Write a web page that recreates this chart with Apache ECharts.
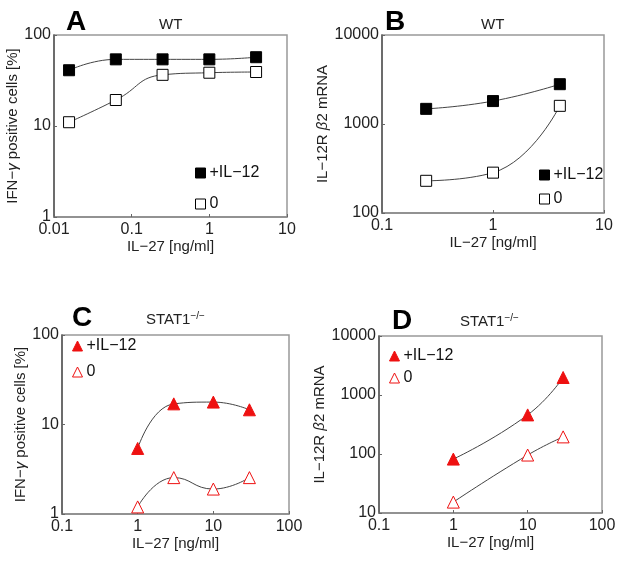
<!DOCTYPE html>
<html><head><meta charset="utf-8">
<script src="https://cdn.jsdelivr.net/npm/echarts@6/dist/echarts.min.js"></script>
<style>html,body{margin:0;padding:0;background:#fff}#c{width:624px;height:565px}</style>
</head><body><div id="c"></div>
<script>
// Panel A (WT, IFN-gamma %)
const xA = [0.015625, 0.0625, 0.25, 1, 4];
const aIL12 = [41, 54, 54, 54, 57];
const aZero = [11, 19.3, 36.5, 38.5, 39.2];
// Panel B (WT, IL-12R b2 mRNA)
const xB = [0.25, 1, 4];
const bIL12 = [1480, 1810, 2800];
const bZero = [230, 284, 1600];
// Panel C (STAT1-/-, IFN-gamma %)
const xC = [1, 3, 10, 30];
const cIL12 = [5.4, 17, 17.8, 14.6];
const cZero = [1.2, 2.55, 1.9, 2.55];
// Panel D (STAT1-/-, IL-12R b2 mRNA)
const xD = [1, 10, 30];
const dIL12 = [82, 460, 1980];
const dZero = [15.3, 96, 195];
const legendNames = ['+IL\u221212', '0'];

const FONT = '"Liberation Sans", Arial, sans-serif';
const RED = '#ee1111';
const zip = (xs, ys) => xs.map((x, i) => [x, ys[i]]);
const fmt = v => String(+(+v).toPrecision(6));

const grids = [
  {left: 54, top: 35, width: 233, height: 182},
  {left: 382, top: 35, width: 222, height: 178},
  {left: 62, top: 335, width: 227, height: 179},
  {left: 379, top: 336, width: 223, height: 177}
];
const xr = [[0.01, 10], [0.1, 10], [0.1, 100], [0.1, 100]];
const yr = [[1, 100], [100, 10000], [1, 100], [10, 10000]];
const yNames = [
  'IFN\u2212{i|\u03b3} positive cells [%]',
  'IL\u221212R {i|\u03b2}2 mRNA',
  'IFN\u2212{i|\u03b3} positive cells [%]',
  'IL\u221212R {i|\u03b2}2 mRNA'
];
const yGaps = [25, 38, 30, 43];

const xAxis = grids.map((g, i) => ({
  type: 'log', logBase: 10, gridIndex: i, min: xr[i][0], max: xr[i][1],
  name: 'IL\u221227 [ng/ml]', nameLocation: 'middle', nameGap: 21,
  nameTextStyle: {fontFamily: FONT, fontSize: 15, color: '#222'},
  axisLine: {lineStyle: {color: '#888', width: 1.5}},
  axisTick: {inside: true, length: 3, lineStyle: {color: '#666'}},
  minorTick: {show: false}, splitLine: {show: false},
  axisLabel: {formatter: fmt, fontFamily: FONT, fontSize: 16, color: '#222', margin: 5}
}));
const yAxis = grids.map((g, i) => ({
  type: 'log', logBase: 10, gridIndex: i, min: yr[i][0], max: yr[i][1],
  name: yNames[i], nameLocation: 'middle', nameGap: yGaps[i],
  nameTextStyle: {fontFamily: FONT, fontSize: 15, color: '#222',
    rich: {i: {fontFamily: FONT, fontSize: 15, fontStyle: 'italic', color: '#222'}}},
  axisLine: {lineStyle: {color: '#555', width: 1.5}},
  axisTick: {inside: true, length: 3, lineStyle: {color: '#666'}},
  minorTick: {show: false}, splitLine: {show: false},
  axisLabel: {formatter: fmt, fontFamily: FONT, fontSize: 16, color: '#222', margin: 3}
}));

function ser(name, idx, xs, ys, sym, fill, stroke, size) {
  return {
    type: 'line', name: name, xAxisIndex: idx, yAxisIndex: idx,
    data: zip(xs, ys), smooth: 0.5, symbol: sym, symbolSize: size,
    lineStyle: {color: '#444', width: 1},
    itemStyle: {color: fill, borderColor: stroke, borderWidth: 1},
    emphasis: {disabled: true}, z: 3
  };
}
const series = [
  ser('A|' + legendNames[0], 0, xA, aIL12, 'rect', '#000', '#000', 11),
  ser('A|' + legendNames[1], 0, xA, aZero, 'rect', '#fff', '#000', 11),
  ser('B|' + legendNames[0], 1, xB, bIL12, 'rect', '#000', '#000', 11),
  ser('B|' + legendNames[1], 1, xB, bZero, 'rect', '#fff', '#000', 11),
  ser('C|' + legendNames[0], 2, xC, cIL12, 'triangle', RED, RED, 12),
  ser('C|' + legendNames[1], 2, xC, cZero, 'triangle', '#fff', RED, 12),
  ser('D|' + legendNames[0], 3, xD, dIL12, 'triangle', RED, RED, 12),
  ser('D|' + legendNames[1], 3, xD, dZero, 'triangle', '#fff', RED, 12)
];

function legend(p, left, top, gap, icon, fill1, stroke) {
  return {
    left: left, top: top, orient: 'vertical', itemGap: gap, itemWidth: 10, itemHeight: 10,
    padding: 0, icon: icon, selectedMode: false,
    formatter: n => n.split('|')[1],
    textStyle: {fontFamily: FONT, fontSize: 16, color: '#111', padding: [0, 0, 0, -1]},
    data: [
      {name: p + '|' + legendNames[0], itemStyle: {color: fill1, borderColor: stroke, borderWidth: 1}},
      {name: p + '|' + legendNames[1], itemStyle: {color: '#fff', borderColor: stroke, borderWidth: 1}}
    ]
  };
}

const titleStyle = {fontFamily: FONT, fontSize: 28, fontWeight: 'bold', color: '#000'};
const subStyle = {fontFamily: FONT, fontSize: 15, fontWeight: 'normal', color: '#222',
  rich: {s: {fontFamily: FONT, fontSize: 10, color: '#222', verticalAlign: 'top', padding: [0, 0, 8, 0]}}};
const title = [
  {text: 'A', left: 61, top: 3, textStyle: titleStyle},
  {text: 'WT', left: 154, top: 12, textStyle: subStyle},
  {text: 'B', left: 380, top: 3, textStyle: titleStyle},
  {text: 'WT', left: 476, top: 12, textStyle: subStyle},
  {text: 'C', left: 67, top: 299, textStyle: titleStyle},
  {text: 'STAT1{s|\u2212/\u2212}', left: 141, top: 306, textStyle: subStyle},
  {text: 'D', left: 387, top: 302, textStyle: titleStyle},
  {text: 'STAT1{s|\u2212/\u2212}', left: 455, top: 308, textStyle: subStyle}
];

const chart = echarts.init(document.getElementById('c'), null, {renderer: 'canvas'});
chart.setOption({
  animation: false,
  backgroundColor: '#fff',
  title: title,
  grid: grids.map(g => Object.assign({show: true, borderColor: '#999', borderWidth: 1.5, backgroundColor: 'transparent'}, g)),
  xAxis: xAxis,
  yAxis: yAxis,
  legend: [
    legend('A', 195, 165, 15, 'rect', '#000', '#000'),
    legend('B', 539, 167, 8, 'rect', '#000', '#000'),
    legend('C', 72, 338, 10, 'triangle', RED, RED),
    legend('D', 389, 348, 6, 'triangle', RED, RED)
  ],
  series: series
});
</script></body></html>
